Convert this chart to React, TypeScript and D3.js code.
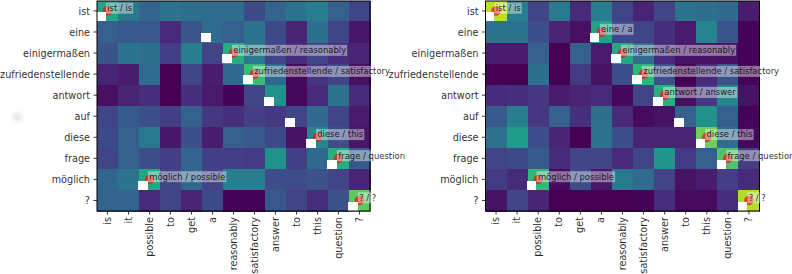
import React, { useRef, useEffect } from 'react';
import * as d3 from 'd3';

const german = ['ist', 'eine', 'einigermaßen', 'zufriedenstellende', 'antwort', 'auf', 'diese', 'frage', 'möglich', '?'];
const english = ['is', 'it', 'possible', 'to', 'get', 'a', 'reasonably', 'satisfactory', 'answer', 'to', 'this', 'question', '?'];

// column aligned to each german row
const aligned = [0, 5, 6, 7, 8, 9, 10, 11, 2, 12];

const leftLabels = ['ist / is', null, 'einigermaßen / reasonably', 'zufriedenstellende / satisfactory', null, null, 'diese / this', 'frage / question', 'möglich / possible', '? / ?'];
const rightLabels = ['ist / is', 'eine / a', 'einigermaßen / reasonably', 'zufriedenstellende / satisfactory', 'antwort / answer', null, 'diese / this', 'frage / question', 'möglich / possible', '? / ?'];

const leftValues = [
  [0.58, 0.4, 0.32, 0.38, 0.36, 0.35, 0.35, 0.22, 0.32, 0.38, 0.42, 0.3, 0.2],
  [0.3, 0.28, 0.27, 0.12, 0.26, 0.35, 0.3, 0.38, 0.22, 0.1, 0.36, 0.2, 0.06],
  [0.25, 0.38, 0.36, 0.18, 0.42, 0.2, 0.62, 0.4, 0.2, 0.12, 0.2, 0.13, 0.1],
  [0.1, 0.08, 0.35, 0.0, 0.2, 0.08, 0.34, 0.68, 0.33, 0.02, 0.15, 0.2, 0.04],
  [0.04, 0.1, 0.13, 0.0, 0.13, 0.07, 0.01, 0.2, 0.5, 0.02, 0.12, 0.38, 0.12],
  [0.2, 0.28, 0.24, 0.18, 0.3, 0.16, 0.14, 0.18, 0.16, 0.2, 0.34, 0.2, 0.08],
  [0.22, 0.3, 0.4, 0.06, 0.24, 0.08, 0.3, 0.28, 0.22, 0.05, 0.47, 0.24, 0.06],
  [0.2, 0.3, 0.24, 0.18, 0.32, 0.18, 0.18, 0.17, 0.5, 0.18, 0.34, 0.63, 0.28],
  [0.33, 0.38, 0.6, 0.2, 0.33, 0.2, 0.42, 0.42, 0.23, 0.23, 0.25, 0.2, 0.1],
  [0.32, 0.32, 0.12, 0.2, 0.1, 0.22, 0.01, 0.01, 0.27, 0.2, 0.13, 0.25, 0.75],
];

const rightValues = [
  [0.9, 0.42, 0.2, 0.4, 0.12, 0.42, 0.2, 0.1, 0.2, 0.38, 0.36, 0.34, 0.08],
  [0.38, 0.38, 0.24, 0.1, 0.04, 0.58, 0.22, 0.2, 0.14, 0.08, 0.45, 0.26, 0.01],
  [0.08, 0.08, 0.3, 0.0, 0.3, 0.07, 0.6, 0.35, 0.12, 0.05, 0.05, 0.04, 0.01],
  [0.0, 0.0, 0.36, 0.0, 0.17, 0.05, 0.24, 0.65, 0.24, 0.0, 0.12, 0.25, 0.01],
  [0.12, 0.14, 0.16, 0.08, 0.1, 0.12, 0.02, 0.2, 0.63, 0.04, 0.17, 0.45, 0.05],
  [0.28, 0.42, 0.16, 0.3, 0.14, 0.36, 0.12, 0.03, 0.05, 0.3, 0.5, 0.3, 0.01],
  [0.37, 0.55, 0.24, 0.1, 0.0, 0.38, 0.24, 0.1, 0.1, 0.1, 0.78, 0.35, 0.02],
  [0.2, 0.22, 0.28, 0.12, 0.2, 0.2, 0.12, 0.2, 0.52, 0.17, 0.3, 0.72, 0.18],
  [0.17, 0.12, 0.66, 0.03, 0.23, 0.06, 0.4, 0.35, 0.2, 0.05, 0.08, 0.18, 0.12],
  [0.05, 0.2, 0.1, 0.0, 0.0, 0.0, 0.0, 0.01, 0.13, 0.03, 0.03, 0.13, 0.88],
];

const width = 792;
const height = 274;
const top = 0.4;
const frameTop = 1;
const bottom = 211;
const color = d3.scaleSequential(d3.interpolateViridis).domain([0, 1]);

function drawPanel(svg, values, labels, left, right) {
  const x = d3.scaleBand().domain(english.map((_, i) => String(i))).range([left, right]);
  const y = d3.scaleBand().domain(german).range([top, bottom]);
  const g = svg.append('g');

  values.forEach((row, r) => {
    const y0 = Math.max(y(german[r]), frameTop);
    g.selectAll(null)
      .data(row)
      .join('rect')
      .attr('x', (_, c) => x(String(c)))
      .attr('y', y0)
      .attr('width', x.bandwidth() + 0.5)
      .attr('height', y(german[r]) + y.bandwidth() - y0 + 0.5)
      .attr('fill', d => color(d))
      .attr('shape-rendering', 'crispEdges');
  });

  // red dots sit under the white squares
  aligned.forEach((c, r) => {
    if (!labels[r]) return;
    g.append('circle')
      .attr('cx', x(String(c)) + x.bandwidth() / 2)
      .attr('cy', y(german[r]) + y.bandwidth() / 2)
      .attr('r', 4.8)
      .attr('fill', '#e0201a').attr('fill-opacity', 0.8);
  });

  // white squares for the reference alignment
  aligned.forEach((c, r) => {
    g.append('rect')
      .attr('x', x(String(c)) - 0.7)
      .attr('y', y(german[r]) + y.bandwidth() - 9.2)
      .attr('width', 9.3)
      .attr('height', 9)
      .attr('fill', '#fff')
      .attr('shape-rendering', 'crispEdges');
  });

  g.append('rect')
    .attr('x', left).attr('y', frameTop)
    .attr('width', right - left).attr('height', bottom - frameTop)
    .attr('fill', 'none').attr('stroke', '#000').attr('stroke-width', 1);

  const xAxis = g.append('g')
    .attr('transform', `translate(0,${bottom})`)
    .call(d3.axisBottom(x).tickSize(3.5).tickFormat(d => english[+d]));
  xAxis.select('.domain').remove();
  xAxis.selectAll('text')
    .attr('font-size', 9.7)
    .attr('font-family', 'DejaVu Sans')
    .attr('fill', '#000')
    .attr('fill-opacity', 0.85)
    .attr('text-anchor', 'end')
    .attr('dy', 0)
    .attr('dominant-baseline', 'middle')
    .attr('transform', 'translate(0,-0.5) rotate(-90)')
    .attr('x', -6.5)
    .attr('y', 0);

  const yAxis = g.append('g')
    .attr('transform', `translate(${left},0)`)
    .call(d3.axisLeft(y).tickSize(3.5).tickPadding(3.5));
  yAxis.select('.domain').remove();
  yAxis.selectAll('text')
    .attr('font-size', 9.7)
    .attr('font-family', 'DejaVu Sans')
    .attr('fill', '#000')
    .attr('fill-opacity', 0.85)
    .attr('dy', '0.4em');

  g.selectAll('.tick line').attr('stroke', '#000').attr('stroke-width', 0.8);

  aligned.forEach((c, r) => {
    const label = labels[r];
    if (!label) return;
    const cx = x(String(c)) + x.bandwidth() / 2;
    const cy = y(german[r]) + y.bandwidth() / 2;
    const box = g.append('rect').attr('fill', '#fff').attr('fill-opacity', 0.42);
    const t = g.append('text')
      .attr('x', cx - 0.3)
      .attr('y', cy + 0.2)
      .attr('font-size', 8.45)
      .attr('font-family', 'DejaVu Sans')
      .attr('fill', '#000')
      .attr('fill-opacity', 0.85)
      .text(label);
    const b = t.node().getBBox();
    box.attr('x', b.x - 1.3).attr('y', cy - 8.2).attr('width', b.width + 2.3).attr('height', 11);
  });
}

function App() {
  const svgRef = useRef(null);

  useEffect(() => {
    const svg = d3.select(svgRef.current);
    svg.selectAll('*').remove();

    const blur = svg.append('defs').append('filter')
      .attr('id', 'spot').attr('x', '-100%').attr('y', '-100%')
      .attr('width', '300%').attr('height', '300%');
    blur.append('feGaussianBlur').attr('stdDeviation', 2.5);
    svg.append('circle')
      .attr('cx', 17.5).attr('cy', 117.5).attr('r', 4)
      .attr('fill', '#ddd').attr('filter', 'url(#spot)');

    drawPanel(svg, leftValues, leftLabels, 97, 370);
    drawPanel(svg, rightValues, rightLabels, 485.5, 759.5);
  }, []);

  return (
    <svg ref={svgRef} width={width} height={height}
      style={{ position: 'absolute', left: 0, top: 0, background: '#fff' }} />
  );
}

export default App;
